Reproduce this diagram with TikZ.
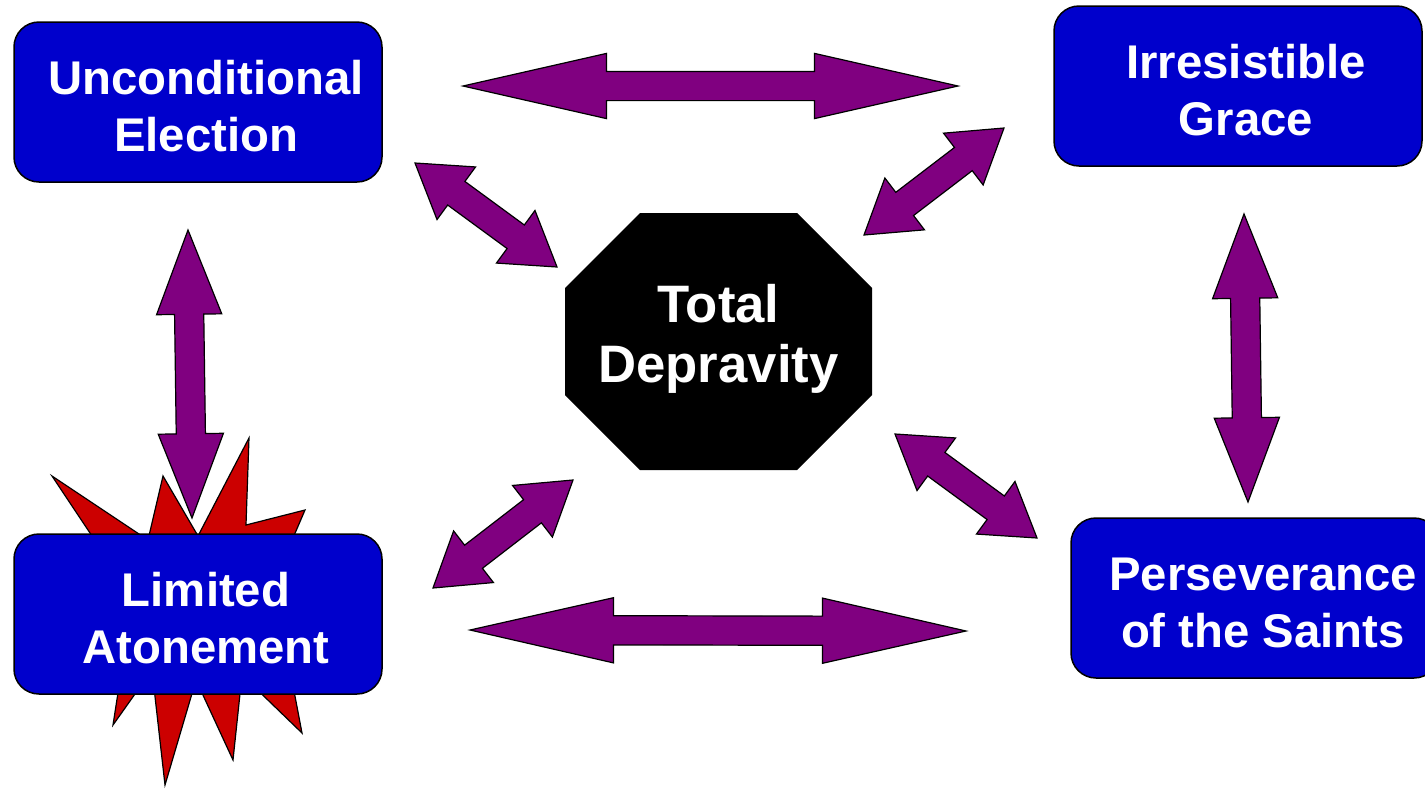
\documentclass[tikz,border=0pt]{standalone}
\usepackage{fontspec}
\setmainfont{Liberation Sans}
\usetikzlibrary{shapes.arrows,calc}

\definecolor{pointblue}{RGB}{0,0,204}
\definecolor{linkpurple}{RGB}{128,0,128}
\definecolor{burstred}{RGB}{204,0,0}

\tikzset{
  point/.style={draw=black,line width=1.5pt,fill=pointblue,rounded corners=25pt,
    minimum width=368pt,minimum height=160pt,inner sep=0pt},
  pointtext/.style={text=white,align=center,inner sep=0pt,xshift=8pt,yshift=-4.5pt,
    font=\fontsize{47.3}{57}\selectfont\bfseries},
  link/.style={double arrow,draw=black,line width=1.2pt,fill=linkpurple,
    inner xsep=0pt,inner ysep=14pt,double arrow head extend=18pt,outer sep=0pt},
}

% double block arrow between two named coordinates: name, from, to, tip angle
\newcommand{\linkarrow}[4]{%
  \path let \p1=($(#3)-(#2)$) in
    node[link,double arrow tip angle=#4,minimum height={veclen(\x1,\y1)},
      rotate={atan2(\y1,\x1)}] (#1) at ($(#2)!.5!(#3)$) {};}

\begin{document}
\begin{tikzpicture}[x=1pt,y=-1pt]
\useasboundingbox (0,0) rectangle (1425,788);

% burst behind limited atonement
\draw[fill=burstred,line width=1.2pt] (52,476)--(148,540)--(163,476)--(198,536)--(249,438)
  --(246,525)--(305,510)--(290,545)--(360,610)--(290,670)--(302,733)--(242,675)
  --(233,760)--(196,680)--(165,785)--(152,670)--(113,725)--(120,680)--(40,610)
  --(98,545)--cycle;

\node[point,label={[pointtext]center:Unconditional\\Election}] (ue) at (198,102) {};
\node[point,label={[pointtext]center:Irresistible\\Grace}] (ig) at (1238,86) {};
\node[point,label={[pointtext]center:Limited\\Atonement}] (la) at (198,614) {};
\node[point,label={[pointtext]center:Perseverance\\of the Saints}] (ps) at (1255,598) {};

% stop sign
\fill (640,213)--(797,213)--(872,288)--(872,395)--(797,470)--(640,470)--(565,395)--(565,288)--cycle;
\node[text=white,align=center,font=\fontsize{52.7}{60}\selectfont\bfseries] (td) at (718.5,338.5) {Total\\Depravity};

% arrow ends
\coordinate (a1) at (463,86);   \coordinate (b1) at (958,86);
\coordinate (a2) at (470,630);  \coordinate (b2) at (966,631);
\coordinate (a3) at (188,230);  \coordinate (b3) at (192,518);
\coordinate (a4) at (1244,214); \coordinate (b4) at (1248,502);
\coordinate (a5) at (415,163);  \coordinate (b5) at (557,267);
\coordinate (a6) at (1004,128); \coordinate (b6) at (864,235);
\coordinate (a7) at (573,480);  \coordinate (b7) at (433,588);
\coordinate (a8) at (895,434);  \coordinate (b8) at (1037,538);

\linkarrow{ue-ig}{a1}{b1}{25.6}
\linkarrow{la-ps}{a2}{b2}{25.6}
\linkarrow{ue-la}{a3}{b3}{42.3}
\linkarrow{ig-ps}{a4}{b4}{42.3}
\linkarrow{ue-td}{a5}{b5}{65}
\linkarrow{ig-td}{a6}{b6}{65}
\linkarrow{la-td}{a7}{b7}{65}
\linkarrow{ps-td}{a8}{b8}{65}
\end{tikzpicture}
\end{document}
